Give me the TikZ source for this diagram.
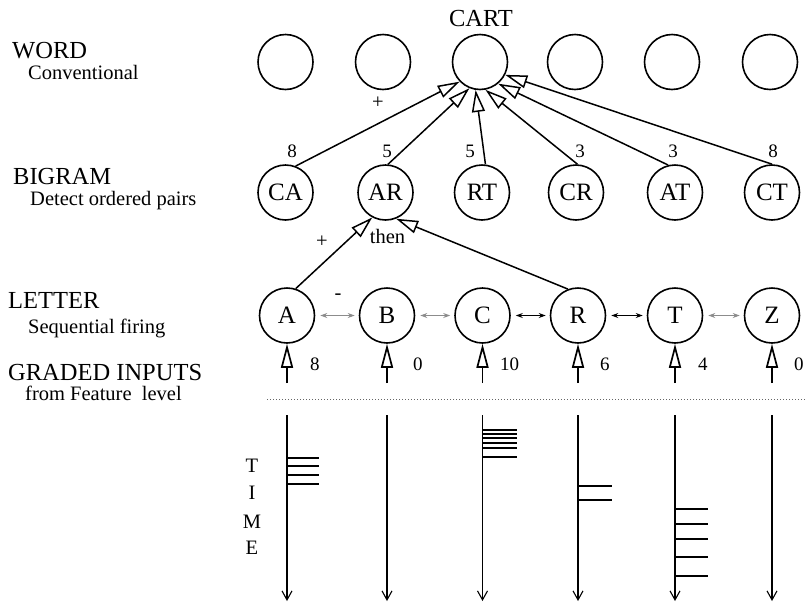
\documentclass[tikz,border=0pt]{standalone}
\usepackage{fontspec}
\setmainfont{Liberation Serif}
\usetikzlibrary{arrows.meta}
\begin{document}
\begin{tikzpicture}[x=1pt,y=-1pt,
  unit/.style={circle, draw, line width=1.6pt, minimum size=55pt, inner sep=0pt, font=\fontsize{25}{27}\selectfont},
  big/.style={font=\fontsize{24.5}{26}\selectfont, inner sep=0pt},
  sub/.style={font=\fontsize{20.5}{22}\selectfont, inner sep=0pt},
  num/.style={font=\fontsize{19}{21}\selectfont, inner sep=0pt},
  wt/.style={line width=1.5pt, -{Triangle[open, length=22pt, width=13pt]}},
  inarrow/.style={line width=1.7pt, -{Triangle[open, length=24pt, width=12pt]}},
  lat/.style={line width=0.9pt, {Stealth[length=7pt,width=5pt]}-{Stealth[length=7pt,width=5pt]}, shorten <=5pt, shorten >=4pt},
  timeline/.style={line width=1.1pt, -{Straight Barb[length=9pt,width=10pt]}},
  tick/.style={line width=1.8pt},
]
\useasboundingbox (0,0) rectangle (805,603);

% left labels
\node[big, anchor=base west] (lwd) at (12,58) {WORD};
\node[sub, anchor=base west] (lwd2) at (28,79) {Conventional};
\node[big, anchor=base west] (lbg) at (13,184) {BIGRAM};
\node[sub, anchor=base west] (lbg2) at (30,205) {Detect ordered pairs};
\node[big, anchor=base west] (llt) at (8,308) {LETTER};
\node[sub, anchor=base west] (llt2) at (28,333) {Sequential firing};
\node[big, anchor=base west] (lgi) at (8,380) {GRADED INPUTS};
\node[sub, anchor=base west] (lgi2) at (25,400) {from Feature\ \ level};

% word row
\node[unit] (w1) at (285.5,62) {};
\node[unit] (w2) at (383,62) {};
\node[unit] (cart) at (480,62) {};
\node[unit] (w4) at (575,62) {};
\node[unit] (w5) at (672,62) {};
\node[unit] (w6) at (770,62) {};
\node[big, anchor=base] (cartlbl) at (481,26) {CART};
\node[sub] (plus1) at (378,103) {+};

% bigram row
\node[unit] (CA) at (285.5,192.5) {CA};
\node[unit] (AR) at (385.5,192.5) {AR};
\node[unit] (RT) at (482,192.5) {RT};
\node[unit] (CR) at (576,192.5) {CR};
\node[unit] (AT) at (675,192.5) {AT};
\node[unit] (CT) at (772,192.5) {CT};

\node[num, anchor=base] (nCA) at (292,157) {8};
\node[num, anchor=base] (nAR) at (387,157) {5};
\node[num, anchor=base] (nRT) at (470,157) {5};
\node[num, anchor=base] (nCR) at (580,157) {3};
\node[num, anchor=base] (nAT) at (673,157) {3};
\node[num, anchor=base] (nCT) at (773,157) {8};

\draw[wt] (CA.69) -- (cart.224);
\draw[wt] (AR.85) -- (cart.248);
\draw[wt] (RT.83) -- (cart.261);
\draw[wt] (CR.87) -- (cart.281);
\draw[wt] (AT.104) -- (cart.310);
\draw[wt] (CT.90) -- (cart.333);

% letter row
\node[unit] (lA) at (287,315.5) {A};
\node[unit] (lB) at (387,315.5) {B};
\node[unit] (lC) at (482.5,315.5) {C};
\node[unit] (lR) at (578,315.5) {R};
\node[unit] (lT) at (675,315.5) {T};
\node[unit] (lZ) at (772,315.5) {Z};

\draw[wt] (lA.72) -- (AR.242);
\draw[wt] (lR.111) -- (AR.292);
\node[sub] (plus2) at (322,242) {+};
\node[sub, anchor=base] (then) at (387.5,243) {then};
\node[sub] (minus) at (338,297) {-};

\draw[lat, black!45] (lA) -- (lB);
\draw[lat, black!45] (lB) -- (lC);
\draw[lat] (lC) -- (lR);
\draw[lat] (lR) -- (lT);
\draw[lat, black!45] (lT) -- (lZ);

% graded inputs
\foreach \n/\x/\v/\o in {lA/287/8/23, lB/387/0/26, lC/482.5/10/17.5, lR/578/6/22, lT/675/4/23, lZ/772/0/22}{
  \coordinate (in\n) at (\x,383);
  \draw[inarrow] (in\n) -- (\n.south);
  \node[num, anchor=base west] (v\n) at (\x+\o,370) {\v};
}

% dotted separator
\coordinate (dl) at (267,399);
\coordinate (dr) at (805,399);
\draw[black!60, line width=0.9pt, dash pattern=on 1pt off 2pt] (dl) -- (dr);

% time lines
\foreach \n/\x in {A/287, B/387, C/482.5, R/578, T/675, Z/772}{
  \coordinate (top\n) at (\x,415);
  \coordinate (bot\n) at (\x,601);
  \draw[timeline] (top\n) -- (bot\n);
}
\foreach \y in {458,466,475,484}{\draw[tick] (287,\y) -- ++(32,0);}
\foreach \y in {430,434,438,443,448,457}{\draw[tick] (482.5,\y) -- ++(34,0);}
\foreach \y in {486,500}{\draw[tick] (578,\y) -- ++(34,0);}
\foreach \y in {509,524,539,557,576}{\draw[tick] (675,\y) -- ++(33,0);}

\node[sub] (tT) at (252,466) {T};
\node[sub] (tI) at (252,493) {I};
\node[sub] (tM) at (252,522) {M};
\node[sub] (tE) at (252,548) {E};
\end{tikzpicture}
\end{document}
